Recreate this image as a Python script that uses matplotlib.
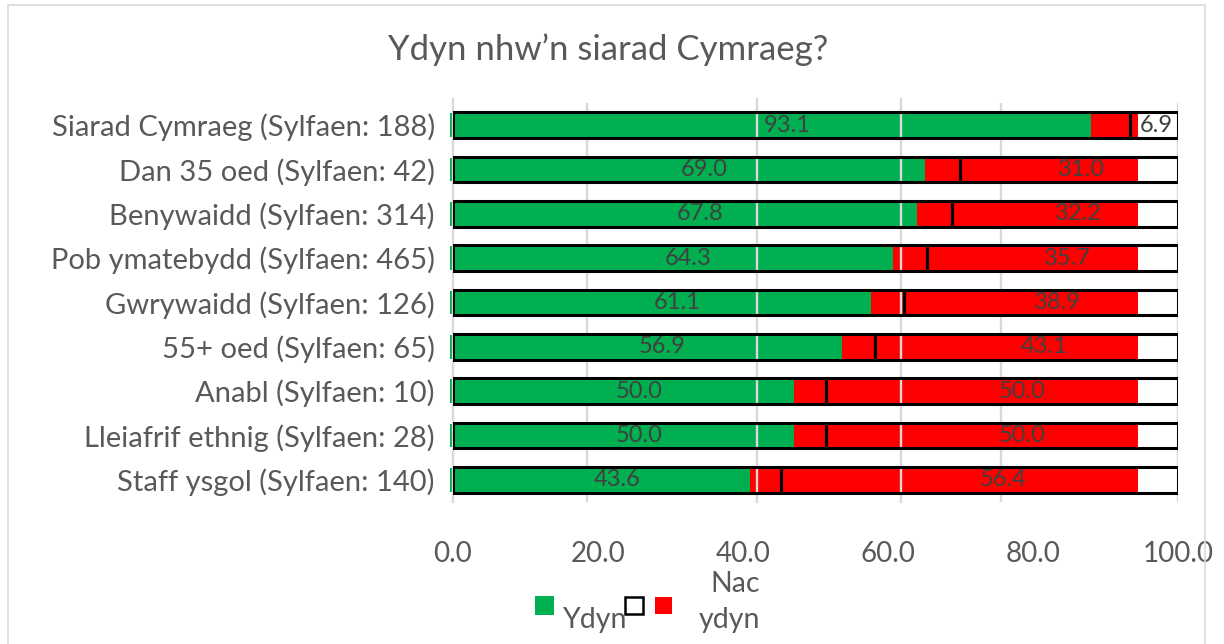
import matplotlib
matplotlib.use("Agg")
import matplotlib.pyplot as plt
from matplotlib.patches import Rectangle

plt.rcParams['font.family'] = ['Lato', 'DejaVu Sans']

# data
categories = [
    "Siarad Cymraeg (Sylfaen: 188)",
    "Dan 35 oed (Sylfaen: 42)",
    "Benywaidd (Sylfaen: 314)",
    "Pob ymatebydd (Sylfaen: 465)",
    "Gwrywaidd (Sylfaen: 126)",
    "55+ oed (Sylfaen: 65)",
    "Anabl (Sylfaen: 10)",
    "Lleiafrif ethnig (Sylfaen: 28)",
    "Staff ysgol (Sylfaen: 140)",
]
ydyn = [93.1, 69.0, 67.8, 64.3, 61.1, 56.9, 50.0, 50.0, 43.6]
nac_ydyn = [6.9, 31.0, 32.2, 35.7, 38.9, 43.1, 50.0, 50.0, 56.4]
tick_vals = [0, 20, 40, 60, 80, 100]
tick_labels = ["0.0", "20.0", "40.0", "60.0", "80.0", "100.0"]

GREEN = "#00b050"
RED = "#ff0000"
GRID = "#d9d9d9"
TXT = "#595959"

W, H = 1224, 644
fig = plt.figure(figsize=(W / 100, H / 100), dpi=100)

# outer chart border
fig.add_artist(Rectangle((7.5 / W, -0.1), (1204.5 - 7.5) / W, 1.1 - 5 / H,
                         transform=fig.transFigure, fill=False,
                         edgecolor=GRID, lw=1.2))

rect = [453 / W, 1 - 502 / H, 725 / W, 399 / H]
ax = fig.add_axes(rect)
y = list(range(len(categories)))

# main axis: 0-100 scale, white box behind everything
ax.set_xlim(0, 100)
ax.set_ylim(len(categories) - 0.5, -0.5)
for gx in [18.5, 75.6, 100]:
    ax.axvline(gx, color=GRID, lw=1.7, zorder=0.5)
ax.barh(y, [100] * len(y), height=0.58, color="white", zorder=1)
ax.set_xticks(tick_vals)
ax.set_xticklabels(tick_labels, fontsize=20, color=TXT)
ax.set_yticks(y)
ax.set_yticklabels(categories, fontsize=21, color=TXT)
ax.tick_params(axis="x", length=0, pad=28)
ax.tick_params(axis="y", length=0, pad=13)
for s in ax.spines.values():
    s.set_visible(False)

# stacked bars on their own (slightly shorter) scale
ax_bar = ax.twiny()
ax_bar.set_xlim(0.42, 105.74)
ax_bar.barh(y, ydyn, height=0.53, color=GREEN, clip_on=False)
ax_bar.barh(y, nac_ydyn, left=ydyn, height=0.53, color=RED)
ax_bar.xaxis.set_visible(False)
for s in ax_bar.spines.values():
    s.set_visible(False)

# front gridlines and box outlines
ax_top = ax.twiny()
ax_top.set_xlim(0, 100)
for gx in [0, 41.9, 61.8]:
    ax_top.axvline(gx, ymax=1.01, color=GRID, lw=1.7, zorder=1, clip_on=False)
ax_top.barh(y, [100] * len(y), height=0.58, fill=False, edgecolor="black",
            lw=2.2, zorder=2)
ax_top.xaxis.set_visible(False)
for s in ax_top.spines.values():
    s.set_visible(False)

# black value markers and data labels
ax_mark = ax.twiny()
ax_mark.set_xlim(-2.83, 99.86)
ax_mark.vlines(ydyn, [i - 0.29 for i in y], [i + 0.29 for i in y],
               color="black", lw=2.3)
for i in y:
    ax_mark.text(ydyn[i] / 2 + 2.4, i, f"{ydyn[i]:.1f}", transform=ax_bar.transData,
                 ha="center", va="center", fontsize=17, color="#404040")
    ax_mark.text(55.85 + 0.44 * ydyn[i], i, f"{nac_ydyn[i]:.1f}",
                 ha="center", va="center", fontsize=17, color="#404040")
ax_mark.xaxis.set_visible(False)
for s in ax_mark.spines.values():
    s.set_visible(False)

# title
fig.text(608 / W, 1 - 50 / H, "Ydyn nhw’n siarad Cymraeg?", ha="center",
         va="center", fontsize=25, color=TXT)

# legend
fig.add_artist(Rectangle((535 / W, (H - 615) / H), 19 / W, 19 / H,
                         transform=fig.transFigure, facecolor=GREEN,
                         edgecolor="none"))
fig.text(563 / W, 1 - 620 / H, "Ydyn", ha="left", va="center", fontsize=20.5,
         color=TXT)
fig.add_artist(Rectangle((625 / W, (H - 614) / H), 18 / W, 17 / H,
                         transform=fig.transFigure, facecolor="white",
                         edgecolor="black", lw=1.8))
fig.add_artist(Rectangle((655 / W, (H - 614) / H), 17 / W, 17 / H,
                         transform=fig.transFigure, facecolor=RED,
                         edgecolor="none"))
fig.text(760 / W, 1 - 602 / H, "Nac\nydyn", ha="right", va="center",
         multialignment="right", fontsize=20.5, color=TXT, linespacing=1.5)

fig.savefig("out.png", dpi=100)
